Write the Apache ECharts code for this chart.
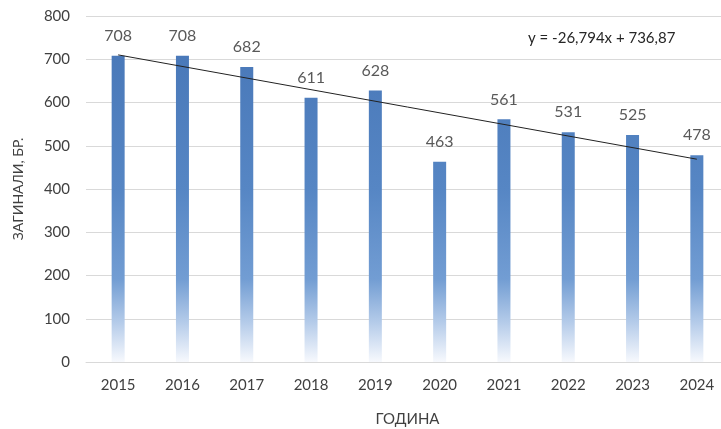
<!DOCTYPE html>
<html><head><meta charset="utf-8">
<script src="https://cdn.jsdelivr.net/npm/echarts@6/dist/echarts.min.js"></script>
<style>html,body{margin:0;padding:0;background:#fff}#c{width:721px;height:429px}</style>
</head><body><div id="c"></div>
<script>
const years = ['2015','2016','2017','2018','2019','2020','2021','2022','2023','2024'];
const deaths = [708, 708, 682, 611, 628, 463, 561, 531, 525, 478];
const trendEnds = [710.08, null, null, null, null, null, null, null, null, 468.93];
const yTicks = {min: 0, max: 800, interval: 100};
const equationText = 'y = -26,794x + 736,87';
const yTitle = 'ЗАГИНАЛИ, БР.';
const xTitle = 'ГОДИНА';

const FONT = 'Lato, "Open Sans", sans-serif';
const chart = echarts.init(document.getElementById('c'));
const grad = new echarts.graphic.LinearGradient(0, 16, 0, 362, [
  {offset: 0, color: '#4675b6'},
  {offset: 0.5, color: '#5686c4'},
  {offset: 0.76, color: '#729dd3'},
  {offset: 0.89, color: '#b7cdea'},
  {offset: 1, color: '#f7f9fd'}
], true);
chart.setOption({
  animation: false,
  grid: {left: 86, top: 16, width: 643, height: 346, outerBoundsMode: 'none', containLabel: false},
  xAxis: {
    type: 'category', data: years,
    name: xTitle, nameLocation: 'middle', nameGap: 50,
    nameTextStyle: {fontFamily: FONT, fontSize: 15, color: '#404040'},
    axisLine: {lineStyle: {color: '#d9d9d9'}},
    axisTick: {show: false},
    axisLabel: {fontFamily: FONT, fontSize: 15, color: '#404040', margin: 16}
  },
  yAxis: {
    type: 'value', min: yTicks.min, max: yTicks.max, interval: yTicks.interval,
    name: yTitle, nameLocation: 'middle', nameGap: 61, nameRotate: 90,
    nameTextStyle: {fontFamily: FONT, fontSize: 14, color: '#404040'},
    axisLine: {show: false}, axisTick: {show: false},
    splitLine: {lineStyle: {color: '#d9d9d9'}},
    axisLabel: {fontFamily: FONT, fontSize: 15, color: '#404040', margin: 16}
  },
  series: [
    {
      type: 'bar', data: deaths, barWidth: 13,
      itemStyle: {color: grad},
      label: {show: true, position: 'top', distance: 12, fontFamily: FONT, fontSize: 16, color: '#595959'}
    },
    {
      type: 'line', data: trendEnds, connectNulls: true, symbol: 'none',
      lineStyle: {color: '#222', width: 1}, z: 5, silent: true
    }
  ],
  graphic: [{
    type: 'text', left: 528, top: 31,
    style: {text: equationText, fontFamily: FONT, fontSize: 15, fill: '#262626'}
  }]
});
</script></body></html>
